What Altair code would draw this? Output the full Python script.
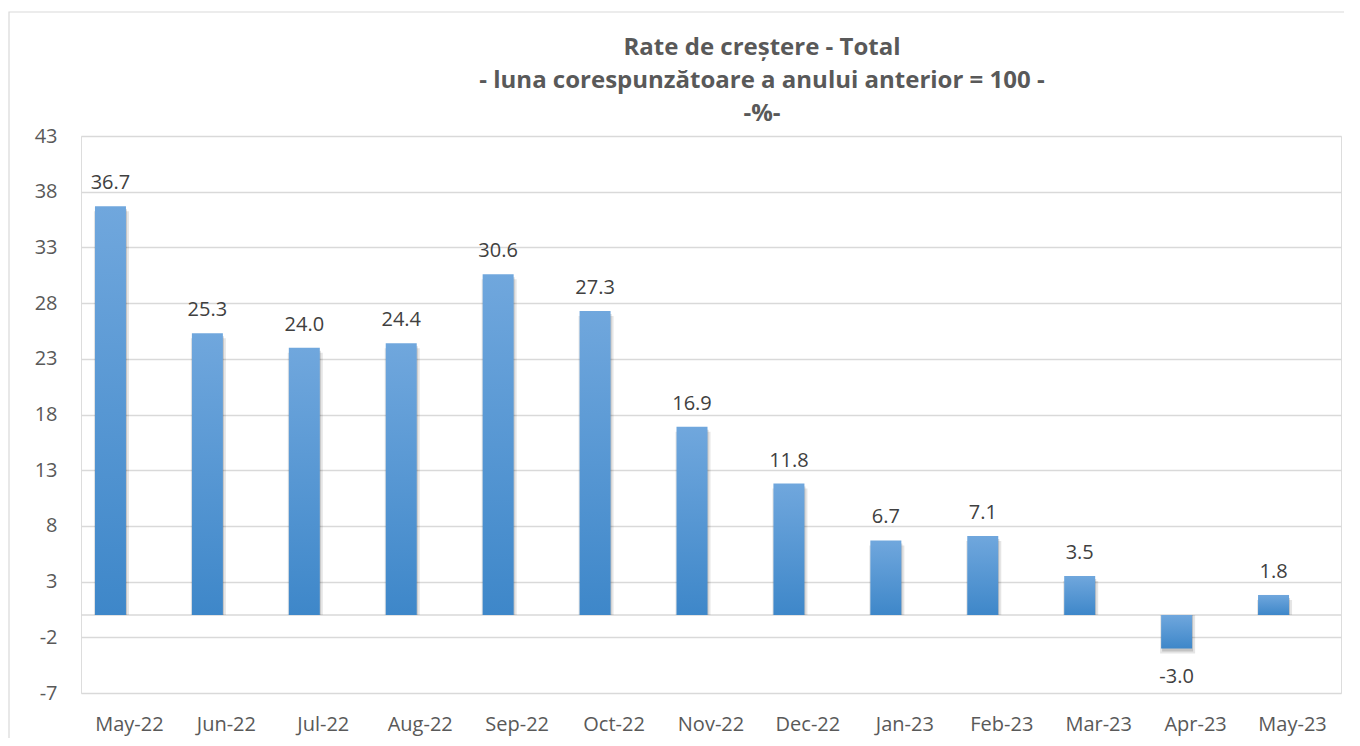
import altair as alt
import pandas as pd

months = ["May-22", "Jun-22", "Jul-22", "Aug-22", "Sep-22", "Oct-22", "Nov-22",
          "Dec-22", "Jan-23", "Feb-23", "Mar-23", "Apr-23", "May-23"]
values = [36.7, 25.3, 24.0, 24.4, 30.6, 27.3, 16.9, 11.8, 6.7, 7.1, 3.5, -3.0, 1.8]
y_ticks = [-7, -2, 3, 8, 13, 18, 23, 28, 33, 38, 43]
title_lines = ["Rate de creștere - Total",
               "- luna corespunzătoare a anului anterior = 100 -",
               "-%-"]

df = pd.DataFrame({"month": months, "value": values})

FONT = "Open Sans"
BAR_W = 31
BAR_DX = -19

x_enc = alt.X("month:N", sort=months, title=None,
              scale=alt.Scale(paddingInner=0, paddingOuter=0),
              axis=alt.Axis(labelAngle=0, labelPadding=21, domain=False, ticks=False,
                            labelFont=FONT, labelFontSize=20, labelColor="#595959",
                            grid=False))
y_enc = alt.Y("value:Q", title=None,
              scale=alt.Scale(domain=[y_ticks[0], y_ticks[-1]], nice=False, zero=False),
              axis=alt.Axis(values=y_ticks, domain=False, ticks=False, labelPadding=24,
                            labelExpr="replace(datum.label, '\u2212', '-')",
                            labelFont=FONT, labelFontSize=20, labelColor="#595959",
                            grid=True, gridColor="#d9d9d9", gridWidth=1.3))

base = alt.Chart(df)
single = base.transform_filter(alt.datum.month == "May-22")

border = single.mark_rect(fill=None, stroke="#d9d9d9", strokeWidth=1.2).encode(
    x=alt.value(-72), x2=alt.value(1276), y=alt.value(-124), y2=alt.value(640)
)

title = single.mark_text(text=title_lines, font=FONT, fontSize=24, fontWeight="bold",
                         color="#595959", align="center", baseline="alphabetic",
                         lineHeight=33).encode(
    x=alt.value(681), y=alt.value(-81)
)

zero_line = single.mark_rule(color="#d9d9d9", strokeWidth=1.3).encode(
    y=alt.datum(0)
)

shadow1 = base.mark_bar(color="#000000", opacity=0.10, size=BAR_W + 4,
                        xOffset=BAR_DX + 1, yOffset=5).encode(
    x=x_enc, y=y_enc, y2=alt.datum(0))
shadow2 = base.mark_bar(color="#000000", opacity=0.15, size=BAR_W,
                        xOffset=BAR_DX + 1, yOffset=3).encode(
    x=x_enc, y=y_enc, y2=alt.datum(0))

bars = base.mark_bar(
    size=BAR_W, xOffset=BAR_DX,
    color=alt.Gradient(gradient="linear", x1=0, x2=0, y1=0, y2=1,
                       stops=[alt.GradientStop(color="#70a7dd", offset=0),
                              alt.GradientStop(color="#3e87c9", offset=1)])
).encode(x=x_enc, y=y_enc, y2=alt.datum(0))

lab = base.transform_calculate(
    lbl="replace(format(datum.value, '.1f'), '\u2212', '-')"
)

labels_pos = lab.mark_text(font=FONT, fontSize=20, color="#404040", dx=BAR_DX,
                           dy=-17, baseline="alphabetic").encode(
    x=x_enc, y=y_enc, text="lbl:N"
).transform_filter(alt.datum.value >= 0)

labels_neg = lab.mark_text(font=FONT, fontSize=20, color="#404040", dx=BAR_DX,
                           dy=35, baseline="alphabetic").encode(
    x=x_enc, y=y_enc, text="lbl:N"
).transform_filter(alt.datum.value < 0)

chart = alt.layer(border, title, zero_line, shadow1, shadow2, bars,
                  labels_pos, labels_neg).properties(
    width=1260, height=557,
    autosize=alt.AutoSizeParams(type="none"),
    padding={"left": 73, "top": 128, "right": 3, "bottom": 45},
).configure_view(stroke=None).configure(background="white")

chart.save("out.html", embed_options={"renderer": "svg", "actions": False})
